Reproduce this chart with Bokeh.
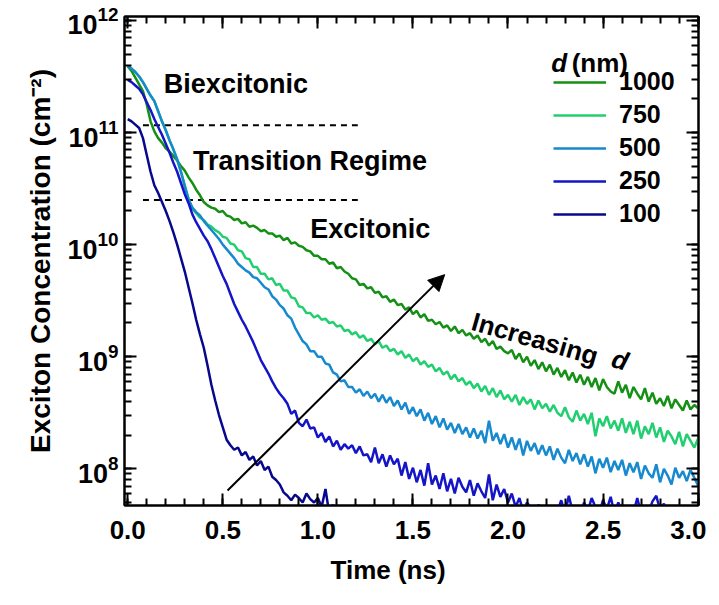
import math
from bokeh.plotting import figure
from bokeh.models import (LinearAxis, LogAxis, Range1d, SingleIntervalTicker, LogTicker,
                          Label, Arrow, NormalHead, Legend, LegendItem, NumeralTickFormatter,
                          CustomJSTickFormatter, Title)
from bokeh.embed import file_html
from bokeh.resources import INLINE

# ---------------- data ----------------
time_ns = [
    0.00, 0.02, 0.04, 0.06, 0.08, 0.10, 0.12, 0.14, 0.16, 0.18,
    0.20, 0.22, 0.24, 0.26, 0.28, 0.30, 0.32, 0.34, 0.36, 0.38,
    0.40, 0.42, 0.44, 0.46, 0.48, 0.50, 0.52, 0.54, 0.56, 0.58,
    0.60, 0.62, 0.64, 0.66, 0.68, 0.70, 0.72, 0.74, 0.76, 0.78,
    0.80, 0.82, 0.84, 0.86, 0.88, 0.90, 0.92, 0.94, 0.96, 0.98,
    1.00, 1.02, 1.04, 1.06, 1.08, 1.10, 1.12, 1.14, 1.16, 1.18,
    1.20, 1.22, 1.24, 1.26, 1.28, 1.30, 1.32, 1.34, 1.36, 1.38,
    1.40, 1.42, 1.44, 1.46, 1.48, 1.50, 1.52, 1.54, 1.56, 1.58,
    1.60, 1.62, 1.64, 1.66, 1.68, 1.70, 1.72, 1.74, 1.76, 1.78,
    1.80, 1.82, 1.84, 1.86, 1.88, 1.90, 1.92, 1.94, 1.96, 1.98,
    2.00, 2.02, 2.04, 2.06, 2.08, 2.10, 2.12, 2.14, 2.16, 2.18,
    2.20, 2.22, 2.24, 2.26, 2.28, 2.30, 2.32, 2.34, 2.36, 2.38,
    2.40, 2.42, 2.44, 2.46, 2.48, 2.50, 2.52, 2.54, 2.56, 2.58,
    2.60, 2.62, 2.64, 2.66, 2.68, 2.70, 2.72, 2.74, 2.76, 2.78,
    2.80, 2.82, 2.84, 2.86, 2.88, 2.90, 2.92, 2.94, 2.96, 2.98,
    3.00,
]

# log10 of exciton concentration (cm^-2) for each thickness d
log_conc_1000 = [
    11.59, 11.55, 11.49, 11.43, 11.37, 11.25, 11.10, 11.01, 10.95, 10.91,
    10.86, 10.83, 10.79, 10.75, 10.70, 10.66, 10.60, 10.55, 10.49, 10.44,
    10.38, 10.35, 10.33, 10.32, 10.29, 10.30, 10.26, 10.25, 10.22, 10.23,
    10.19, 10.20, 10.16, 10.17, 10.15, 10.12, 10.13, 10.10, 10.10, 10.07,
    10.08, 10.04, 10.06, 10.01, 10.02, 9.99, 9.98, 9.95, 9.94, 9.90,
    9.90, 9.87, 9.87, 9.83, 9.84, 9.79, 9.80, 9.76, 9.74, 9.70,
    9.69, 9.64, 9.65, 9.61, 9.62, 9.57, 9.58, 9.53, 9.54, 9.49,
    9.51, 9.46, 9.47, 9.42, 9.44, 9.38, 9.41, 9.35, 9.38, 9.32,
    9.33, 9.29, 9.31, 9.26, 9.28, 9.23, 9.27, 9.21, 9.24, 9.19,
    9.21, 9.16, 9.19, 9.13, 9.16, 9.10, 9.14, 9.07, 9.09, 9.05,
    9.03, 9.06, 8.98, 9.03, 8.95, 9.00, 8.92, 8.97, 8.89, 8.95,
    8.87, 8.93, 8.84, 8.90, 8.82, 8.88, 8.79, 8.86, 8.77, 8.84,
    8.75, 8.82, 8.73, 8.81, 8.70, 8.80, 8.73, 8.69, 8.67, 8.78,
    8.68, 8.75, 8.63, 8.73, 8.67, 8.62, 8.72, 8.60, 8.68, 8.58,
    8.63, 8.56, 8.65, 8.54, 8.62, 8.57, 8.52, 8.61, 8.53, 8.57,
    8.54,
]
log_conc_750 = [
    11.59, 11.57, 11.54, 11.50, 11.45, 11.39, 11.33, 11.28, 11.19, 11.10,
    11.02, 10.93, 10.85, 10.76, 10.65, 10.53, 10.41, 10.32, 10.28, 10.24,
    10.22, 10.18, 10.16, 10.13, 10.11, 10.07, 10.06, 10.01, 10.00, 9.95,
    9.94, 9.88, 9.87, 9.80, 9.80, 9.74, 9.74, 9.69, 9.70, 9.64,
    9.65, 9.59, 9.59, 9.53, 9.52, 9.45, 9.44, 9.39, 9.39, 9.35,
    9.37, 9.33, 9.34, 9.30, 9.31, 9.27, 9.28, 9.23, 9.24, 9.20,
    9.22, 9.17, 9.19, 9.14, 9.16, 9.11, 9.14, 9.08, 9.10, 9.05,
    9.07, 9.02, 9.05, 8.99, 9.02, 8.96, 8.99, 8.93, 8.96, 8.91,
    8.93, 8.87, 8.90, 8.84, 8.87, 8.80, 8.84, 8.78, 8.81, 8.75,
    8.78, 8.72, 8.76, 8.69, 8.74, 8.66, 8.72, 8.64, 8.70, 8.62,
    8.66, 8.60, 8.66, 8.57, 8.64, 8.58, 8.62, 8.53, 8.61, 8.54,
    8.58, 8.51, 8.57, 8.50, 8.47, 8.55, 8.46, 8.42, 8.52, 8.43,
    8.49, 8.40, 8.50, 8.29, 8.45, 8.38, 8.47, 8.36, 8.43, 8.34,
    8.45, 8.32, 8.42, 8.31, 8.43, 8.27, 8.38, 8.31, 8.41, 8.28,
    8.37, 8.24, 8.34, 8.29, 8.22, 8.33, 8.20, 8.31, 8.25, 8.19,
    8.27,
]
log_conc_500 = [
    11.59, 11.57, 11.54, 11.50, 11.45, 11.39, 11.33, 11.28, 11.19, 11.10,
    11.02, 10.93, 10.85, 10.76, 10.65, 10.52, 10.40, 10.33, 10.29, 10.26,
    10.21, 10.17, 10.13, 10.09, 10.05, 10.00, 9.96, 9.92, 9.88, 9.83,
    9.80, 9.77, 9.75, 9.71, 9.70, 9.66, 9.62, 9.60, 9.54, 9.51,
    9.46, 9.43, 9.37, 9.34, 9.26, 9.20, 9.14, 9.11, 9.05, 9.05,
    9.00, 9.00, 8.94, 8.93, 8.86, 8.84, 8.78, 8.79, 8.73, 8.73,
    8.68, 8.71, 8.65, 8.69, 8.63, 8.67, 8.60, 8.66, 8.59, 8.64,
    8.56, 8.61, 8.53, 8.59, 8.49, 8.55, 8.47, 8.53, 8.43, 8.50,
    8.40, 8.47, 8.37, 8.45, 8.35, 8.41, 8.32, 8.40, 8.31, 8.37,
    8.28, 8.36, 8.27, 8.34, 8.23, 8.43, 8.25, 8.32, 8.22, 8.31,
    8.19, 8.28, 8.17, 8.27, 8.12, 8.25, 8.16, 8.23, 8.13, 8.21,
    8.12, 8.20, 8.08, 8.18, 8.10, 8.05, 8.17, 8.07, 8.14, 8.04,
    8.13, 8.02, 8.11, 7.96, 8.09, 8.01, 8.10, 7.97, 8.07, 7.99,
    8.08, 7.94, 8.05, 7.97, 8.06, 7.91, 8.03, 7.96, 7.92, 8.04,
    7.88, 8.00, 7.94, 7.86, 8.01, 7.92, 7.98, 7.89, 7.99, 7.92,
    7.85,
]
log_conc_250 = [
    11.47, 11.45, 11.42, 11.39, 11.34, 11.27, 11.20, 11.12, 11.05, 10.98,
    10.90, 10.82, 10.73, 10.65, 10.55, 10.45, 10.37, 10.27, 10.20, 10.14,
    10.08, 10.03, 9.96, 9.88, 9.80, 9.72, 9.65, 9.56, 9.47, 9.40,
    9.33, 9.27, 9.20, 9.13, 9.05, 8.97, 8.91, 8.85, 8.78, 8.72,
    8.67, 8.63, 8.58, 8.49, 8.52, 8.41, 8.38, 8.44, 8.36, 8.37,
    8.28, 8.32, 8.24, 8.29, 8.20, 8.25, 8.17, 8.22, 8.18, 8.21,
    8.14, 8.20, 8.12, 8.13, 8.06, 8.19, 8.05, 8.13, 8.02, 8.12,
    8.04, 8.09, 7.94, 8.06, 7.91, 8.01, 7.88, 7.99, 7.85, 8.05,
    7.86, 7.94, 7.82, 7.96, 7.80, 7.91, 7.78, 7.92, 7.84, 7.79,
    7.90, 7.76, 7.87, 7.80, 7.74, 7.95, 7.72, 7.86, 7.75, 7.82,
    7.70, 7.78, 7.66, 7.74, 7.62, 7.70, 7.65, 7.60, 7.68, 7.63,
    7.60, 7.66, 7.58, 7.62, 7.72, 7.60, 7.76, 7.62, 7.66, 7.58,
    7.70, 7.62, 7.74, 7.66, 7.61, 7.72, 7.64, 7.75, 7.60, 7.70,
    7.63, 7.58, 7.66, 7.61, 7.74, 7.60, 7.57, 7.62, 7.71, 7.76,
    7.63, 7.69, 7.58, 7.62, 7.60, 7.66, 7.58, 7.61, 7.57, 7.60,
    7.58,
]
log_conc_100 = [
    11.12, 11.10, 11.07, 11.04, 10.95, 10.80, 10.65, 10.53, 10.46, 10.38,
    10.30, 10.21, 10.11, 10.00, 9.88, 9.76, 9.62, 9.48, 9.33, 9.20,
    9.08, 8.92, 8.75, 8.61, 8.48, 8.37, 8.26, 8.21, 8.17, 8.19,
    8.12, 8.15, 8.08, 8.11, 8.03, 8.07, 7.99, 8.02, 7.93, 7.90,
    7.86, 7.79, 7.76, 7.72, 7.77, 7.74, 7.70, 7.78, 7.73, 7.70,
    7.74, 7.66, 7.82, 7.60, 7.68, 7.55,
]

thickness_labels = ["1000", "750", "500", "250", "100"]
series = [log_conc_1000, log_conc_750, log_conc_500, log_conc_250, log_conc_100]
colors = ["#149014", "#22cf70", "#1689cf", "#1515c8", "#08088e"]

regime_t = [0.08, 1.21]                 # extent of dashed regime boundaries
regime_bounds = [1.16e11, 2.5e10]       # biexcitonic / excitonic boundaries
arrow_t = [0.525, 1.667]
arrow_conc = [6.4e7, 5.4e9]

FONT = "Liberation Sans"

p = figure(width=706, height=595, y_axis_type="log",
           x_range=Range1d(-0.017, 3.002), y_range=Range1d(4.71e7, 1.084e12),
           output_backend="svg", toolbar_location=None,
           min_border_left=124, min_border_right=8, min_border_top=16, min_border_bottom=86)
p.background_fill_color = "white"
p.border_fill_color = "white"
p.outline_line_color = "black"
p.outline_line_width = 2
p.xgrid.visible = False
p.ygrid.visible = False

# bottom axis
xa = p.xaxis[0]
xa.ticker = SingleIntervalTicker(interval=0.5, num_minor_ticks=5)
xa.formatter = NumeralTickFormatter(format="0.0")
# left axis
ya = p.yaxis[0]
ya.ticker = LogTicker(num_minor_ticks=10)

for ax in (xa, ya):
    ax.major_label_text_font = FONT
    ax.major_label_text_font_style = "bold"
    ax.major_label_text_color = "black"
    ax.axis_line_width = 2
    ax.major_tick_line_width = 2
    ax.minor_tick_line_width = 2
    ax.major_tick_out = 0
    ax.minor_tick_out = 0
    ax.major_tick_in = 12
    ax.minor_tick_in = 7
xa.major_label_text_font_size = "26px"
ya.major_label_text_font_size = "27px"
xa.major_label_standoff = 15
ya.major_label_standoff = 6

blank = CustomJSTickFormatter(code="return ''")
top = LinearAxis(ticker=SingleIntervalTicker(interval=0.5, num_minor_ticks=5), formatter=blank)
right = LogAxis(ticker=LogTicker(num_minor_ticks=10), formatter=blank)
for ax in (top, right):
    ax.major_label_text_font_size = "10px"
    ax.major_label_standoff = 0
    ax.axis_line_width = 2
    ax.major_tick_line_width = 2
    ax.minor_tick_line_width = 2
    ax.major_tick_out = 0
    ax.minor_tick_out = 0
    ax.major_tick_in = 12
    ax.minor_tick_in = 7
p.add_layout(top, "above")
p.add_layout(right, "right")

# axis titles (placed as side titles so that they can be shifted like the reference)
p.add_layout(Title(text="Time (ns)", align="left", offset=206, standoff=22,
                   text_font=FONT, text_font_size="26px", text_font_style="bold",
                   text_color="black"), "below")
p.add_layout(Title(text="Exciton Concentration (cm\u207b\u00b2)", align="center", offset=9,
                   standoff=18, text_font=FONT, text_font_size="28px", text_font_style="bold",
                   text_color="black"), "left")

# regime boundaries
for b in regime_bounds:
    p.line(regime_t, [b, b], line_color="black", line_width=2, line_dash="6 5")

# curves
renderers = []
for lab_, logc, col in zip(thickness_labels, series, colors):
    t = time_ns[:len(logc)]
    conc = [10.0 ** v for v in logc]
    r = p.line(t, conc, line_color=col, line_width=2.5)
    renderers.append(r)

legend = Legend(items=[LegendItem(label=l, renderers=[r]) for l, r in zip(thickness_labels, renderers)],
                location=(429, 277), orientation="vertical",
                glyph_width=53, glyph_height=28, label_height=28, spacing=4,
                label_standoff=13, padding=0, margin=0,
                label_text_font=FONT, label_text_font_size="25px", label_text_font_style="bold",
                label_text_color="black",
                border_line_alpha=0, background_fill_alpha=0)
p.add_layout(legend)

# arrow
p.add_layout(Arrow(end=NormalHead(size=16, fill_color="black", line_color="black"),
                   x_start=arrow_t[0], y_start=arrow_conc[0], x_end=arrow_t[1], y_end=arrow_conc[1],
                   line_color="black", line_width=2))

def lab(x, y, text, size="27px", style="bold", baseline="middle", angle=0.0, align="left"):
    p.add_layout(Label(x=x, y=y, text=text, text_font=FONT, text_font_size=size,
                       text_font_style=style, text_baseline=baseline, text_align=align,
                       text_color="black", angle=angle))

lab(0.19, 2.72e11, "Biexcitonic")
lab(0.343, 5.53e10, "Transition Regime")
lab(0.96, 1.39e10, "Excitonic")
ang = -0.279
lab(1.813, 2.09e9, "Increasing", size="26px", baseline="alphabetic", angle=ang)
lab(2.55, 9.8e8, "d", size="26px", style="bold italic", baseline="alphabetic", angle=ang)
lab(2.227, 4.16e11, "d", size="26px", style="bold italic")
lab(2.335, 4.16e11, "(nm)", size="26px")

open("out.html", "w").write(file_html(p, INLINE))
